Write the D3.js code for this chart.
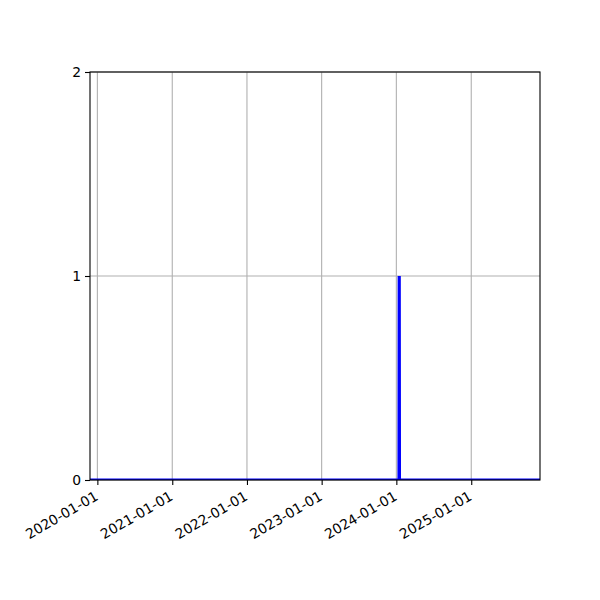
<!DOCTYPE html>
<meta charset="utf-8">
<style>
body { margin: 0; background: #fff; }
text { font-family: "DejaVu Sans", sans-serif; font-size: 13.9px; fill: #000; }
</style>
<body>
<script src="https://cdnjs.cloudflare.com/ajax/libs/d3/7.8.5/d3.min.js"></script>
<script>
var dates = ["2019-11-26", "2024-01-14", "2024-01-15", "2024-01-16", "2025-12-03"],
    values = [0, 0, 1, 0, 0],
    xTicks = ["2020-01-01", "2021-01-01", "2022-01-01", "2023-01-01", "2024-01-01", "2025-01-01"],
    yTicks = [0, 1, 2];

var parse = d3.utcParse("%Y-%m-%d");
var data = dates.map(function(d, i) { return {date: parse(d), value: values[i]}; });

var w = 600, h = 600,
    mLeft = 90, mRight = 540, mTop = 72, mBottom = 480;

var x = d3.scaleUtc()
    .domain(d3.extent(data, function(d) { return d.date; }))
    .range([mLeft, mRight]);
var y = d3.scaleLinear()
    .domain([0, 2])
    .range([mBottom, mTop]);

var svg = d3.select("body").append("svg")
    .attr("width", w)
    .attr("height", h);

svg.append("clipPath").attr("id", "clip")
  .append("rect")
    .attr("x", mLeft).attr("y", mTop)
    .attr("width", mRight - mLeft).attr("height", mBottom - mTop);

// grid
svg.append("g")
  .selectAll("line")
    .data(xTicks)
  .enter().append("line")
    .attr("x1", function(d) { return x(parse(d)); })
    .attr("x2", function(d) { return x(parse(d)); })
    .attr("y1", mTop).attr("y2", mBottom)
    .style("stroke", "#b0b0b0").style("stroke-width", 1.1);
svg.append("g")
  .selectAll("line")
    .data(yTicks)
  .enter().append("line")
    .attr("x1", mLeft).attr("x2", mRight)
    .attr("y1", function(d) { return y(d); })
    .attr("y2", function(d) { return y(d); })
    .style("stroke", "#b0b0b0").style("stroke-width", 1.1);

// data line
svg.append("path")
    .datum(data)
    .attr("clip-path", "url(#clip)")
    .attr("d", d3.line()
      .x(function(d) { return x(d.date); })
      .y(function(d) { return y(d.value); }))
    .style("fill", "none")
    .style("stroke", "#0000ff")
    .style("stroke-width", 3.2);

// frame
svg.append("rect")
    .attr("x", mLeft).attr("y", mTop)
    .attr("width", mRight - mLeft).attr("height", mBottom - mTop)
    .style("fill", "none").style("stroke", "#000").style("stroke-width", 1.1);

// axes
var xAxis = svg.append("g")
    .attr("transform", "translate(0," + mBottom + ")")
    .call(d3.axisBottom(x)
      .tickValues(xTicks.map(parse))
      .tickFormat(d3.utcFormat("%Y-%m-%d"))
      .tickSize(5)
      .tickPadding(4));
xAxis.select(".domain").remove();
xAxis.selectAll("line").style("stroke", "#000").style("stroke-width", 1.1);
xAxis.selectAll("text")
    .attr("font-size", null).attr("font-family", null)
    .style("text-anchor", "end")
    .attr("dy", "0.75em")
    .attr("y", 10)
    .attr("x", -4)
    .attr("transform", "rotate(-30 -4 10)");

var yAxis = svg.append("g")
    .attr("transform", "translate(" + mLeft + ",0)")
    .call(d3.axisLeft(y)
      .tickValues(yTicks)
      .tickFormat(d3.format("d"))
      .tickSize(5)
      .tickPadding(4));
yAxis.select(".domain").remove();
yAxis.selectAll("line").style("stroke", "#000").style("stroke-width", 1.1);
yAxis.selectAll("text").attr("font-size", null).attr("font-family", null);
</script>
